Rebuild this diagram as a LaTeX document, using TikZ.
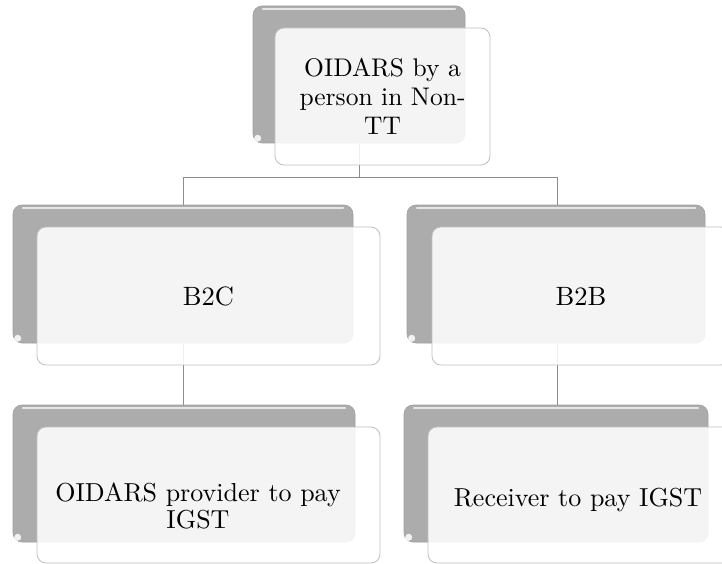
\documentclass[tikz,border=0pt]{standalone}
\usepackage{fontspec}
\setmainfont{lmroman10-regular}[Extension=.otf]
\definecolor{backgray}{RGB}{172,172,172}
\definecolor{backedge}{RGB}{158,158,158}
\definecolor{frontedge}{RGB}{192,192,192}
\definecolor{linegray}{RGB}{140,140,140}
\tikzset{
  backbox/.style={draw=backedge, line width=0.6pt, fill=backgray, rounded corners=9pt, inner sep=0pt},
  frontbox/.style={draw=frontedge, line width=0.8pt, fill=white, fill opacity=0.87, text opacity=1,
    rounded corners=9pt, inner sep=0pt, align=center,
    font=\fontsize{26.5}{30}\selectfont},
  toptext/.style={font=\fontsize{25.5}{29}\selectfont},
  labeltext/.style={align=center, font=\fontsize{26}{27}\selectfont},
  conn/.style={draw=linegray, line width=0.9pt},
}
\begin{document}
\begin{tikzpicture}[x=1pt,y=-1pt]
\useasboundingbox (0,0) rectangle (722,564);
\begin{scope}
\clip (0,0) rectangle (722,564);
% connector coordinates
\coordinate (tdown) at (359,177);
\coordinate (lcorner) at (183,177);
\coordinate (rcorner) at (557,177);
% back (gray) boxes
\node[backbox, minimum width=212pt, minimum height=137pt] (topback) at (359,74.5) {};
\node[backbox, minimum width=340pt, minimum height=138pt] (lback) at (183,274) {};
\node[backbox, minimum width=298pt, minimum height=138pt] (rback) at (556,274) {};
\node[backbox, minimum width=342pt, minimum height=137pt] (blback) at (184,473.5) {};
\node[backbox, minimum width=304pt, minimum height=137pt] (brback) at (556,473.5) {};
% connectors (under the front boxes)
\draw[conn] (topback.south) -- (tdown);
\draw[conn] (lcorner) -- (rcorner);
\draw[conn] (lcorner) -- (lback.north);
\draw[conn] (rcorner) -- (rback.north -| rcorner);
\draw[conn] (lback.south) -- (blback.north -| lback.south);
\draw[conn] (rback.south -| rcorner) -- (brback.north -| rcorner);
% highlight strips on gray boxes
\foreach \n in {topback,lback,rback,blback,brback}{
  \draw[white, opacity=0.7, line width=1.6pt, line cap=round]
    ([xshift=10pt,yshift=-3.5pt]\n.north west) -- ([xshift=-10pt,yshift=-3.5pt]\n.north east);
  \fill[white, opacity=0.85] ([xshift=5pt,yshift=5pt]\n.south west) circle (3.5pt);
}
% front (white) boxes with text
\node[frontbox, toptext, minimum width=215pt, minimum height=137pt] (topfront) at (382.5,96.5) {OIDARS by a\\person in Non-\\TT};
\node[frontbox, minimum width=343pt, minimum height=138pt] (lfront) at (208.5,296) {B2C};
\node[frontbox, minimum width=298pt, minimum height=138pt] (rfront) at (581,296) {B2B};
\node[frontbox, minimum width=343pt, minimum height=136pt] (blfront) at (208.5,495) {};
\node[labeltext] (bltext) at (198,506) {OIDARS provider to pay\\IGST};
\node[frontbox, minimum width=304pt, minimum height=136pt] (brfront) at (580,495) {};
\node[labeltext] (brtext) at (578,500) {Receiver to pay IGST};
\end{scope}
\end{tikzpicture}
\end{document}
